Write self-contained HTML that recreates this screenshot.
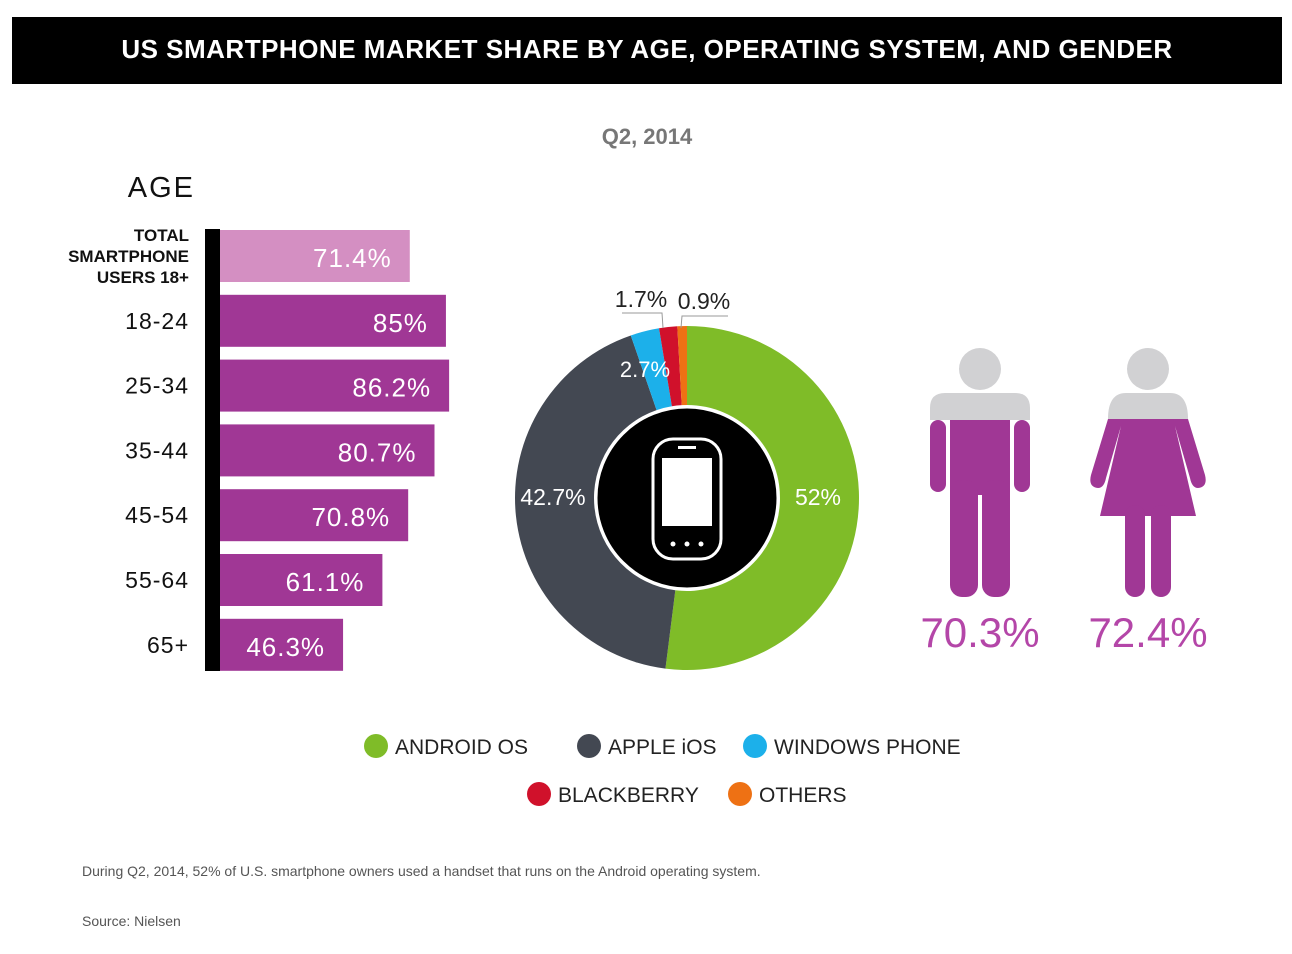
<!DOCTYPE html>
<html><head><meta charset="utf-8"><style>
body{margin:0;background:#fff;width:1292px;height:954px;overflow:hidden;font-family:"Liberation Sans",sans-serif}
#t{position:absolute;left:12px;top:17px;width:1270px;height:67px;background:#000;color:#fff;font-weight:bold;font-size:26px;text-align:center;line-height:64px;letter-spacing:0.5px}
.a{position:absolute}
</style></head><body>
<div id="t">US SMARTPHONE MARKET SHARE BY AGE, OPERATING SYSTEM, AND GENDER</div>
<div class="a" style="left:560px;top:124px;width:174px;text-align:center;color:#777;font-weight:bold;font-size:22px">Q2, 2014</div>
<div class="a" style="left:100px;top:172px;width:95px;text-align:right;font-size:29px;letter-spacing:2px;color:#111">AGE</div>
<svg class="a" style="left:0;top:0" width="1292" height="954" id="svg"></svg>
<div class="a" style="left:82px;top:863px;font-size:14px;color:#555">During Q2, 2014, 52% of U.S. smartphone owners used a handset that runs on the Android operating system.</div>
<div class="a" style="left:82px;top:913px;font-size:14px;color:#555">Source: Nielsen</div>
<script>
const ageCats=["TOTAL SMARTPHONE USERS 18+","18-24","25-34","35-44","45-54","55-64","65+"];
const ageVals=[71.4,85,86.2,80.7,70.8,61.1,46.3];
const ageLabels=["71.4%","85%","86.2%","80.7%","70.8%","61.1%","46.3%"];
const osCats=["ANDROID OS","APPLE iOS","WINDOWS PHONE","BLACKBERRY","OTHERS"];
const osVals=[52,42.7,2.7,1.7,0.9];
const osColors=["#7fbc28","#434852","#1cb0ea","#d0112b","#ee7114"];
const genderCats=["male","female"];
const genderVals=[70.3,72.4];
const NS="http://www.w3.org/2000/svg";
const svg=document.getElementById('svg');
function mk(t,a,p){const e=document.createElementNS(NS,t);for(const k in a)e.setAttribute(k,a[k]);(p||svg).appendChild(e);return e;}
const x0=220,pxPer=2.658;
const xs=v=>x0+v*pxPer;
const ys=i=>230+i*64.8;
const ax=mk('rect',{x:205,y:229,width:15,height:442,fill:'#000'});

ageVals.forEach((v,i)=>{
 const r=mk('rect',{x:x0,y:ys(i),width:xs(v)-x0,height:52,fill:i==0?'#d48fc2':'#a03795'});
 
 
 const t=mk('text',{x:xs(v)-18,y:ys(i)+37,'text-anchor':'end',fill:'#fff','font-size':26,'letter-spacing':1});
 t.textContent=ageLabels[i];
 
 
 if(i==0){
  ["TOTAL","SMARTPHONE","USERS 18+"].forEach((s,j)=>{const l=mk('text',{x:189,y:241+j*21,'text-anchor':'end','font-size':17,fill:'#111','font-weight':'bold'});l.textContent=s;
  
  });
 } else {
  const l=mk('text',{x:189,y:ys(i)+34,'text-anchor':'end','font-size':23,fill:'#111','letter-spacing':1});l.textContent=ageCats[i];
  
  
 }
});
// donut
const cx=687,cy=498,R=172,r0=93;
const tot=osVals.reduce((a,b)=>a+b,0);
let acc=0;
const pt=(f,rr)=>[cx+rr*Math.sin(f*2*Math.PI),cy-rr*Math.cos(f*2*Math.PI)];
osVals.forEach((v,i)=>{
 const f0=acc/tot,f1=(acc+v)/tot;acc+=v;
 const [a1,b1]=pt(f0,R),[a2,b2]=pt(f1,R),[c1,d1]=pt(f1,r0),[c2,d2]=pt(f0,r0);
 const lg=(f1-f0)>0.5?1:0;
 const p=mk('path',{d:`M${a1},${b1}A${R},${R} 0 ${lg} 1 ${a2},${b2}L${c1},${d1}A${r0},${r0} 0 ${lg} 0 ${c2},${d2}Z`,fill:osColors[i]});
 
 
});
const ic=mk('circle',{cx,cy,r:r0-2,fill:'#000',stroke:'#fff','stroke-width':3});

const ph=mk('g',{});

mk('rect',{x:653,y:439,width:68,height:120,rx:20,fill:'none',stroke:'#fff','stroke-width':3},ph);
mk('rect',{x:662,y:458,width:50,height:68,fill:'#fff'},ph);
mk('rect',{x:678,y:446,width:18,height:3,fill:'#fff'},ph);
[673,687,701].forEach(x=>mk('circle',{cx:x,cy:544,r:2.5,fill:'#fff'},ph));
function lbl(s,x,y,fill,sz,anch){const t=mk('text',{x,y,fill,'font-size':sz,'text-anchor':anch||'middle'});t.textContent=s;
 return t;}
lbl(osVals[0]+'%',818,505,'#fff',23);
lbl(osVals[1]+'%',553,505,'#fff',23);
lbl(osVals[2]+'%',645,377,'#fff',22);
lbl(osVals[3]+'%',641,307,'#222',23);
lbl(osVals[4]+'%',704,309,'#222',23);
mk('polyline',{points:'622,313 662,313 663,328',fill:'none',stroke:'#999','stroke-width':1});
mk('polyline',{points:'728,316 682,316 681,328',fill:'none',stroke:'#999','stroke-width':1});
// gender figures
function person(cx0,female,val,name){
 const g=mk('g',{});
 
 mk('circle',{cx:cx0,cy:369,r:21,fill:'#d1d1d3'},g);
 const P='#a03795';
 if(!female){
  mk('path',{d:`M${cx0-50},420 L${cx0-50},408 Q${cx0-50},393 ${cx0-35},393 L${cx0+35},393 Q${cx0+50},393 ${cx0+50},408 L${cx0+50},420Z`,fill:'#d1d1d3'},g);
  mk('rect',{x:cx0-50,y:420,width:16,height:72,rx:8,fill:P},g);
  mk('rect',{x:cx0+34,y:420,width:16,height:72,rx:8,fill:P},g);
  mk('rect',{x:cx0-30,y:420,width:60,height:75,fill:P},g);
  mk('rect',{x:cx0-30,y:480,width:28,height:117,rx:12,fill:P},g);
  mk('rect',{x:cx0+2,y:480,width:28,height:117,rx:12,fill:P},g);
 } else {
  mk('path',{d:`M${cx0-40},419 Q${cx0-40},393 ${cx0-22},393 L${cx0+22},393 Q${cx0+40},393 ${cx0+40},419Z`,fill:'#d1d1d3'},g);
  mk('path',{d:`M${cx0-40},419 L${cx0-57},475 Q${cx0-60},487 ${cx0-50},488 Q${cx0-44},488 ${cx0-42},478 L${cx0-27},426 L${cx0-48},516 L${cx0+48},516 L${cx0+27},426 L${cx0+42},478 Q${cx0+44},488 ${cx0+50},488 Q${cx0+60},487 ${cx0+57},475 L${cx0+40},419Z`,fill:P},g);
  mk('rect',{x:cx0-23,y:505,width:20,height:92,rx:10,fill:P},g);
  mk('rect',{x:cx0+3,y:505,width:20,height:92,rx:10,fill:P},g);
 }
 const t=mk('text',{x:cx0,y:647,'text-anchor':'middle',fill:'#b446a8','font-size':42},g);t.textContent=val+'%';
}
person(980,false,genderVals[0],'male-figure');
person(1148,true,genderVals[1],'female-figure');
// legend
const legPos=[[376,746],[589,746],[755,746],[539,794],[740,794]];
osCats.forEach((c,i)=>{
 const g=mk('g',{});
 
 mk('circle',{cx:legPos[i][0],cy:legPos[i][1],r:12,fill:osColors[i]},g);
 const t=mk('text',{x:legPos[i][0]+19,y:legPos[i][1]+8,'font-size':21,fill:'#222'},g);t.textContent=c;
});
</script>
</body></html>
